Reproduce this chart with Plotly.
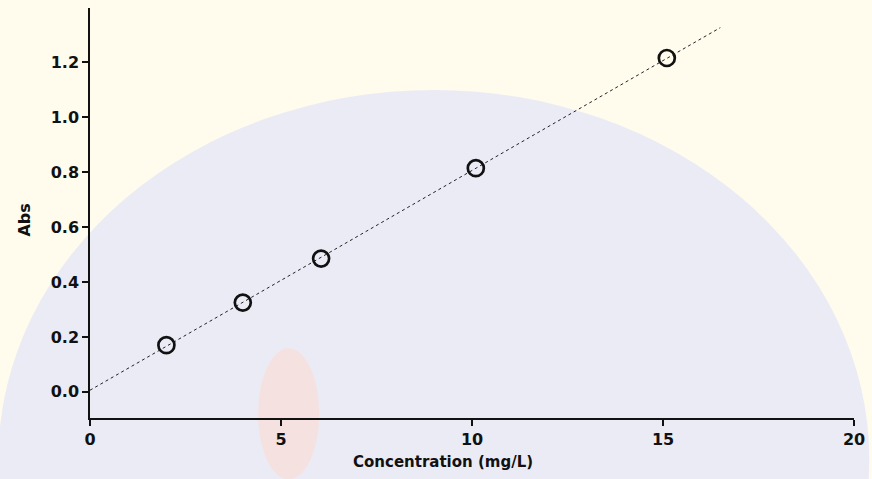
import numpy as np
import plotly.graph_objects as go

# Data
concentration = [2.0, 4.0, 6.05, 10.1, 15.1]
absorbance = [0.17, 0.325, 0.485, 0.814, 1.215]
x_ticks = [0, 5, 10, 15, 20]
y_ticks = [0.0, 0.2, 0.4, 0.6, 0.8, 1.0, 1.2]
y_tick_text = ["0.0", "0.2", "0.4", "0.6", "0.8", "1.0", "1.2"]
x_title = "Concentration (mg/L)"
y_title = "Abs"

# Least-squares calibration line
slope, intercept = np.polyfit(concentration, absorbance, 1)
fit_x = np.array([0.0, 16.5])
fit_y = slope * fit_x + intercept

font_family = "DejaVu Sans, Verdana, sans-serif"

fig = go.Figure()
fig.add_trace(go.Scatter(
    x=fit_x, y=fit_y, mode="lines",
    line=dict(color="#222222", width=1, dash="dot"),
    showlegend=False, hoverinfo="skip",
))
fig.add_trace(go.Scatter(
    x=concentration, y=absorbance, mode="markers",
    marker=dict(symbol="circle-open", size=16, color="#111111",
                line=dict(color="#111111", width=2.7)),
    showlegend=False,
))

shapes = [
    # faint watermark: bluish dome over a cream background
    dict(type="circle", xref="paper", yref="paper", layer="below",
         x0=-0.12, x1=1.02, y0=-1.0, y1=0.80,
         fillcolor="rgba(226,228,250,0.7)", line=dict(width=0)),
    dict(type="circle", xref="paper", yref="paper", layer="below",
         x0=0.22, x1=0.30, y0=-0.15, y1=0.17,
         fillcolor="rgba(250,222,215,0.7)", line=dict(width=0)),
]

fig.update_layout(
    width=872, height=479,
    margin=dict(l=90, r=18, t=8, b=61),
    paper_bgcolor="#fffcee",
    plot_bgcolor="rgba(0,0,0,0)",
    font=dict(family=font_family, color="#111111"),
    shapes=shapes,
    annotations=[
        dict(text="<b>" + x_title + "</b>", xref="paper", yref="paper",
             x=(443 - 90) / 764, y=-0.108, xanchor="center", yanchor="middle",
             showarrow=False, font=dict(size=15, family=font_family, color="#111111")),
        dict(text="<b>" + y_title + "</b>", xref="paper", yref="paper",
             x=-0.087, y=(418 - 220) / 410, xanchor="center", yanchor="middle",
             textangle=-90, showarrow=False,
             font=dict(size=16, family=font_family, color="#111111")),
    ],
)
fig.update_xaxes(
    range=[0, 20], tickvals=x_ticks, ticktext=[f"<b>{v}</b>" for v in x_ticks],
    showgrid=False, zeroline=False, showline=True, linecolor="#111111", linewidth=1.5,
    ticks="outside", ticklen=6, tickwidth=1.5, tickcolor="#111111",
    tickfont=dict(size=16, family=font_family, color="#111111"),
)
fig.update_yaxes(
    range=[-0.095, 1.397], tickvals=y_ticks, ticktext=[f"<b>{t}</b>" for t in y_tick_text],
    showgrid=False, zeroline=False, showline=True, linecolor="#111111", linewidth=1.5,
    ticks="outside", ticklen=6, tickwidth=1.5, tickcolor="#111111",
    tickfont=dict(size=16, family=font_family, color="#111111"),
)

fig.write_html("out.html")
